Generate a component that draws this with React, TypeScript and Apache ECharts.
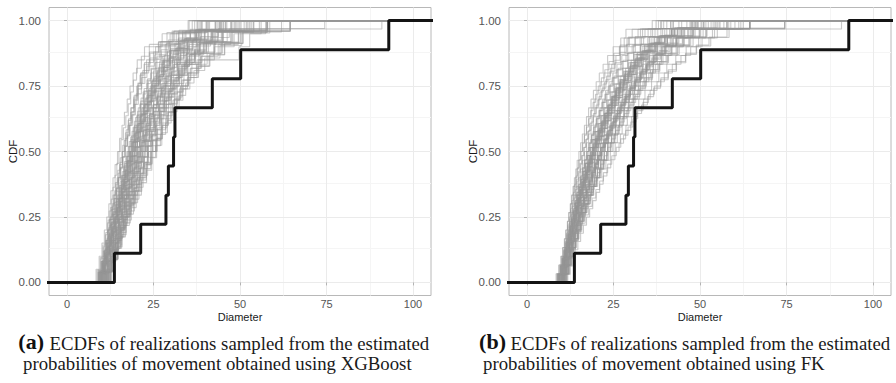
import React, { useEffect, useRef } from "react";
import * as echarts from "echarts";

// ---- axis ticks / grid lines ----
const xTicks = [0, 25, 50, 75, 100];
const xMinor = [12.5, 37.5, 62.5, 87.5];
const yTicks = [0, 0.25, 0.5, 0.75, 1];
const yMinor = [0.125, 0.375, 0.625, 0.875];

// ---- observed diameters (black ECDF, same in both panels) ----
const observedDiameters = [13.7, 21.3, 28.6, 29.3, 30.8, 31.2, 42.0, 50.2, 93.0];

// ---- realizations, panel (a) XGBoost ----
const xgboostRealizations: number[][] = [
  [9.2, 10.1, 10.8, 11.4, 12.0, 12.5, 13.1, 13.8, 14.3, 14.9, 15.6, 16.2, 16.8, 17.5, 18.1, 18.7, 19.4, 20.0, 20.6, 21.3, 22.4, 23.8, 26.5, 31.0, 36.2],
  [10.4, 11.2, 11.9, 12.6, 13.3, 13.8, 14.6, 15.3, 16.1, 16.9, 17.6, 18.4, 19.3, 20.1, 21.0, 21.9, 22.8, 23.9, 25.1, 26.4, 27.8, 29.2, 31.0, 33.6, 37.4, 42.1, 48.3],
  [11.8, 12.9, 13.7, 14.6, 15.5, 16.4, 17.3, 18.5, 19.6, 20.8, 22.1, 23.3, 24.2, 25.5, 26.9, 28.0, 29.4, 30.9, 32.4, 33.9, 36.1, 39.4, 44.8, 52.6],
  [10.0, 10.7, 11.5, 12.1, 12.8, 13.4, 14.0, 14.7, 15.2, 15.9, 16.6, 17.3, 18.0, 18.8, 19.5, 20.3, 21.1, 22.0, 22.9, 23.8, 24.9, 26.0, 27.3, 28.6, 30.1, 31.8, 34.2, 37.0, 41.5, 46.9, 91.0],
  [11.0, 11.9, 12.7, 13.5, 14.2, 15.0, 15.9, 16.7, 17.6, 18.5, 19.4, 20.3, 21.2, 22.3, 23.4, 24.5, 25.8, 27.0, 28.5, 30.2, 32.0, 34.7, 38.3, 43.5, 64.5],
  [9.6, 10.5, 11.3, 11.9, 12.6, 13.2, 13.9, 14.5, 15.1, 15.8, 16.4, 17.0, 17.7, 18.4, 19.1, 19.8, 20.6, 21.5, 22.6, 23.7, 24.9, 26.3, 27.9, 29.8, 32.3, 35.1, 39.8, 45.3],
  [12.2, 13.1, 13.8, 14.6, 15.4, 16.3, 17.2, 18.2, 19.3, 20.4, 21.6, 22.8, 24.1, 25.3, 26.8, 28.2, 29.7, 31.3, 33.0, 35.4, 38.6, 42.7, 49.8],
  [10.8, 11.6, 12.2, 12.9, 13.5, 14.1, 14.8, 15.4, 16.0, 16.7, 17.5, 18.3, 19.0, 19.9, 20.7, 21.6, 22.6, 23.7, 24.8, 26.0, 27.4, 28.9, 30.8, 33.5, 37.9, 57.8],
  [9.9, 10.6, 11.1, 11.8, 12.4, 12.9, 13.5, 14.0, 14.6, 15.2, 15.7, 16.3, 16.9, 17.5, 18.1, 18.8, 19.4, 20.1, 20.9, 21.7, 22.5, 23.4, 24.4, 25.5, 26.7, 28.1, 29.9, 32.2, 35.6, 40.3],
  [11.3, 12.4, 13.2, 14.1, 14.9, 15.8, 16.6, 17.6, 18.6, 19.5, 20.6, 21.7, 22.8, 23.9, 25.2, 26.5, 27.9, 29.3, 30.8, 32.4, 34.6, 37.8, 41.9, 47.5],
  [10.2, 11.0, 11.6, 12.3, 13.0, 13.6, 14.3, 15.0, 15.7, 16.4, 17.1, 17.9, 18.7, 19.6, 20.4, 21.3, 22.3, 23.4, 24.6, 25.9, 27.3, 29.0, 31.2, 34.4, 39.1],
  [11.6, 12.5, 13.3, 14.0, 14.8, 15.5, 16.3, 17.1, 17.9, 18.8, 19.7, 20.6, 21.5, 22.5, 23.5, 24.6, 25.7, 26.9, 28.2, 29.5, 31.0, 32.6, 34.4, 36.9, 40.2, 44.6, 51.8],
  [9.4, 10.4, 11.2, 12.0, 12.7, 13.5, 14.3, 15.1, 15.9, 16.7, 17.6, 18.5, 19.3, 20.2, 21.1, 22.0, 23.1, 24.3, 26.0, 28.4, 32.2, 38.7],
  [10.6, 11.3, 11.9, 12.5, 13.1, 13.6, 14.2, 14.8, 15.3, 15.9, 16.5, 17.1, 17.7, 18.3, 19.0, 19.6, 20.3, 21.0, 21.7, 22.5, 23.3, 24.1, 25.0, 26.0, 27.1, 28.3, 29.6, 31.1, 32.9, 35.3, 38.6, 43.8, 74.5],
  [12.0, 12.8, 13.6, 14.3, 15.1, 15.9, 16.8, 17.6, 18.5, 19.4, 20.3, 21.3, 22.3, 23.4, 24.5, 25.6, 26.8, 28.0, 29.3, 30.7, 32.2, 33.9, 35.9, 38.4, 41.8, 46.2],
  [9.0, 9.8, 10.5, 11.1, 11.7, 12.3, 12.9, 13.5, 14.2, 14.8, 15.4, 16.1, 16.8, 17.5, 18.2, 19.0, 19.8, 20.6, 21.5, 22.5, 23.6, 25.0, 27.1, 30.4, 35.0],
  [11.1, 11.9, 12.6, 13.2, 13.9, 14.5, 15.2, 15.9, 16.6, 17.3, 18.0, 18.8, 19.6, 20.4, 21.2, 22.1, 23.0, 24.0, 25.0, 26.1, 27.3, 28.6, 30.0, 31.7, 33.8, 36.5, 40.7, 64.5],
  [10.7, 11.7, 12.5, 13.4, 14.2, 15.0, 15.8, 16.7, 17.6, 18.6, 19.5, 20.5, 21.6, 22.7, 23.8, 25.0, 26.3, 27.7, 29.2, 30.9, 32.8, 35.4, 39.7, 45.8],
  [10.3, 11.0, 11.7, 12.3, 12.9, 13.6, 14.2, 14.8, 15.5, 16.1, 16.8, 17.4, 18.1, 18.8, 19.6, 20.3, 21.1, 21.9, 22.8, 23.7, 24.7, 25.8, 27.0, 28.3, 29.8, 31.6, 34.0, 37.2, 42.9],
  [12.6, 13.5, 14.4, 15.3, 16.2, 17.1, 18.1, 19.1, 20.1, 21.2, 22.3, 23.5, 24.7, 26.0, 27.3, 28.7, 30.1, 31.7, 33.4, 35.5, 38.2, 42.0, 48.6],
  [9.7, 10.6, 11.4, 12.2, 12.9, 13.7, 14.4, 15.2, 15.9, 16.7, 17.4, 18.2, 19.0, 19.8, 20.6, 21.5, 22.4, 23.4, 24.4, 25.5, 26.7, 28.1, 29.8, 32.1, 35.6, 41.2],
  [11.4, 12.1, 12.8, 13.4, 14.0, 14.7, 15.3, 15.9, 16.6, 17.2, 17.9, 18.6, 19.3, 20.0, 20.8, 21.6, 22.4, 23.2, 24.1, 25.0, 26.0, 27.1, 28.2, 29.5, 30.9, 32.6, 34.7, 37.5, 41.6, 57.8],
  [10.9, 11.8, 12.6, 13.3, 14.1, 14.8, 15.6, 16.4, 17.2, 18.0, 18.9, 19.8, 20.7, 21.7, 22.7, 23.8, 24.9, 26.1, 27.4, 28.8, 30.4, 32.3, 34.8, 38.4, 44.0],
  [9.5, 10.2, 10.9, 11.5, 12.1, 12.7, 13.3, 13.9, 14.5, 15.1, 15.7, 16.4, 17.0, 17.7, 18.4, 19.1, 19.8, 20.6, 21.4, 22.3, 23.3, 24.4, 25.7, 27.2, 29.3, 32.4, 37.6],
  [11.9, 13.0, 13.9, 14.9, 15.8, 16.8, 17.8, 18.9, 20.0, 21.1, 22.3, 23.5, 24.7, 26.0, 27.3, 28.6, 30.0, 31.5, 33.1, 34.9, 37.1, 40.3, 45.0, 53.4],
  [10.1, 10.8, 11.5, 12.2, 12.8, 13.4, 14.1, 14.7, 15.4, 16.0, 16.7, 17.4, 18.1, 18.9, 19.7, 20.5, 21.4, 22.3, 23.2, 24.2, 25.3, 26.5, 27.9, 29.4, 31.3, 33.8, 37.4, 43.1],
  [11.5, 12.3, 13.0, 13.8, 14.5, 15.3, 16.0, 16.8, 17.6, 18.5, 19.3, 20.2, 21.1, 22.1, 23.1, 24.1, 25.2, 26.4, 27.6, 28.9, 30.3, 31.9, 33.8, 36.2, 39.9, 47.7],
  [9.8, 10.8, 11.7, 12.5, 13.3, 14.1, 14.9, 15.8, 16.6, 17.5, 18.4, 19.3, 20.2, 21.2, 22.2, 23.3, 24.5, 25.9, 27.6, 29.9, 33.5, 40.6],
  [10.5, 11.1, 11.8, 12.4, 13.0, 13.6, 14.1, 14.7, 15.3, 15.9, 16.5, 17.1, 17.7, 18.4, 19.0, 19.7, 20.4, 21.1, 21.9, 22.7, 23.5, 24.4, 25.4, 26.5, 27.7, 29.0, 30.5, 32.3, 34.6, 38.0, 44.4],
  [12.4, 13.3, 14.1, 14.9, 15.8, 16.6, 17.5, 18.4, 19.4, 20.3, 21.3, 22.3, 23.4, 24.5, 25.6, 26.8, 28.1, 29.5, 31.0, 32.6, 34.5, 36.8, 39.8, 43.7, 50.3],
  [10.9, 11.8, 12.6, 13.3, 14.1, 14.9, 15.6, 16.4, 17.3, 18.1, 19.0, 20.0, 21.0, 22.1, 23.3, 24.6, 26.0, 27.8, 29.9, 33.2, 38.5, 44.9, 49.6, 54.0],
  [9.3, 10.2, 10.9, 11.6, 12.2, 12.8, 13.4, 14.1, 14.7, 15.3, 16.0, 16.6, 17.3, 18.0, 18.8, 19.5, 20.4, 21.3, 22.3, 23.5, 25.0, 26.8, 29.1, 32.6, 37.1, 42.8],
  [12.9, 13.8, 14.6, 15.5, 16.5, 17.4, 18.5, 19.6, 20.7, 21.9, 23.2, 24.5, 25.9, 27.4, 28.9, 30.6, 32.5, 34.8, 37.6, 41.1, 45.5, 50.8, 58.0],
  [10.4, 11.1, 11.7, 12.4, 13.0, 13.7, 14.3, 15.0, 15.6, 16.3, 17.1, 17.8, 18.6, 19.5, 20.3, 21.2, 22.2, 23.2, 24.4, 25.6, 27.0, 28.6, 30.5, 32.9, 36.2, 40.8, 47.3],
  [9.1, 10.0, 10.8, 11.5, 12.2, 12.9, 13.6, 14.3, 15.0, 15.7, 16.4, 17.2, 17.9, 18.7, 19.5, 20.3, 21.2, 22.1, 23.1, 24.2, 25.5, 27.2, 29.6, 33.4, 38.8],
  [11.7, 12.7, 13.5, 14.4, 15.2, 16.1, 17.0, 17.9, 18.9, 19.9, 20.9, 22.0, 23.2, 24.4, 25.7, 27.1, 28.7, 30.4, 32.4, 34.9, 38.1, 42.6, 47.9, 55.6],
  [10.2, 10.9, 11.6, 12.2, 12.8, 13.4, 14.0, 14.6, 15.2, 15.9, 16.5, 17.2, 17.9, 18.6, 19.4, 20.2, 21.0, 21.9, 22.9, 24.0, 25.1, 26.4, 27.9, 29.7, 31.9, 34.8, 38.9, 45.1],
  [11.2, 12.2, 13.1, 14.0, 14.9, 15.9, 16.9, 17.9, 19.0, 20.1, 21.3, 22.5, 23.8, 25.2, 26.7, 28.3, 30.1, 32.2, 34.8, 38.2, 43.0, 49.4],
  [9.6, 10.4, 11.1, 11.8, 12.5, 13.1, 13.8, 14.4, 15.1, 15.8, 16.5, 17.2, 18.0, 18.8, 19.6, 20.5, 21.4, 22.4, 23.5, 24.7, 26.1, 27.7, 29.7, 32.5, 36.8, 43.6],
  [12.1, 13.0, 13.8, 14.6, 15.5, 16.3, 17.2, 18.1, 19.1, 20.1, 21.1, 22.2, 23.3, 24.5, 25.8, 27.2, 28.6, 30.2, 31.9, 33.8, 36.1, 39.0, 42.8, 47.6, 64.5],
  [10.0, 10.8, 11.4, 12.0, 12.6, 13.2, 13.8, 14.4, 15.0, 15.6, 16.2, 16.9, 17.6, 18.3, 19.0, 19.8, 20.6, 21.4, 22.3, 23.3, 24.3, 25.4, 26.7, 28.1, 29.8, 31.8, 34.4, 38.2, 44.5],
  [10.6, 11.6, 12.5, 13.4, 14.3, 15.2, 16.1, 17.1, 18.1, 19.1, 20.2, 21.3, 22.5, 23.7, 25.0, 26.5, 28.1, 30.0, 32.3, 35.3, 39.5, 45.2, 52.1],
  [9.4, 10.3, 11.0, 11.7, 12.3, 12.9, 13.5, 14.1, 14.8, 15.4, 16.1, 16.8, 17.5, 18.2, 19.0, 19.8, 20.7, 21.6, 22.6, 23.7, 24.9, 26.3, 28.0, 30.1, 33.0, 37.5, 57.8],
  [11.3, 12.2, 13.0, 13.8, 14.6, 15.4, 16.2, 17.1, 18.0, 18.9, 19.9, 20.9, 21.9, 23.0, 24.2, 25.5, 26.9, 28.4, 30.1, 32.1, 34.6, 37.8, 42.4, 48.9],
  [10.3, 11.2, 12.0, 12.7, 13.4, 14.1, 14.8, 15.5, 16.3, 17.0, 17.8, 18.6, 19.4, 20.3, 21.2, 22.2, 23.2, 24.3, 25.5, 26.8, 28.3, 30.0, 32.1, 34.9, 38.7, 44.1],
  [12.5, 13.5, 14.5, 15.4, 16.4, 17.5, 18.6, 19.7, 20.9, 22.1, 23.4, 24.8, 26.2, 27.7, 29.3, 31.1, 33.2, 35.6, 38.6, 42.4, 47.3, 53.9],
  [9.9, 10.7, 11.3, 11.9, 12.5, 13.1, 13.7, 14.3, 14.9, 15.5, 16.1, 16.8, 17.4, 18.1, 18.8, 19.6, 20.4, 21.2, 22.1, 23.0, 24.1, 25.2, 26.5, 28.0, 29.9, 32.3, 35.7, 40.9],
  [11.0, 11.9, 12.7, 13.5, 14.3, 15.1, 15.9, 16.8, 17.7, 18.6, 19.6, 20.6, 21.7, 22.8, 24.0, 25.3, 26.7, 28.2, 29.9, 31.8, 34.1, 37.0, 40.9, 46.3, 52.9],
  [9.7, 10.6, 11.4, 12.2, 12.9, 13.7, 14.4, 15.2, 15.9, 16.7, 17.5, 18.4, 19.2, 20.1, 21.1, 22.1, 23.2, 24.4, 25.8, 27.5, 29.7, 32.8, 37.4, 44.7],
  [11.8, 12.6, 13.4, 14.1, 14.9, 15.7, 16.5, 17.3, 18.1, 19.0, 19.9, 20.8, 21.8, 22.8, 23.9, 25.0, 26.2, 27.5, 28.9, 30.5, 32.3, 34.4, 37.0, 40.4, 45.0, 51.2],
  [8.4, 9.3, 10.1, 10.8, 11.5, 12.1, 12.7, 13.3, 13.9, 14.6, 15.2, 15.9, 16.6, 17.4, 18.2, 19.1, 20.3, 22.4, 27.5, 35.3],
  [9.0, 9.8, 10.5, 11.1, 11.7, 12.2, 12.8, 13.3, 13.9, 14.4, 15.0, 15.6, 16.3, 17.0, 17.7, 18.4, 19.2, 20.1, 21.5, 23.8, 28.9, 38.2],
  [9.5, 10.3, 10.9, 11.5, 12.0, 12.6, 13.1, 13.6, 14.2, 14.8, 15.3, 15.9, 16.5, 17.1, 17.8, 18.5, 19.3, 20.2, 21.1, 22.3, 24.0, 26.4, 30.7, 37.8],
  [8.7, 9.6, 10.4, 11.2, 11.9, 12.6, 13.3, 14.0, 14.7, 15.4, 16.1, 16.9, 17.7, 18.5, 19.4, 20.5, 21.9, 23.9, 26.8, 31.6, 40.2],
  [9.8, 10.5, 11.2, 11.8, 12.4, 13.0, 13.6, 14.2, 14.8, 15.4, 16.0, 16.7, 17.3, 18.0, 18.8, 19.6, 20.5, 21.6, 23.1, 25.3, 28.8, 34.1, 45.9],
  [9.2, 10.1, 10.9, 11.7, 12.4, 13.1, 13.8, 14.5, 15.2, 16.0, 16.8, 17.6, 18.4, 19.3, 20.3, 21.4, 23.0, 25.6, 29.8, 36.9],
  [12.3, 13.6, 14.8, 15.9, 17.1, 18.3, 19.5, 20.8, 22.0, 23.3, 24.6, 26.0, 27.4, 28.9, 30.4, 31.9, 33.6, 35.8, 38.9, 43.7, 49.5, 57.8],
  [11.6, 12.9, 14.1, 15.4, 16.8, 18.3, 19.8, 21.3, 22.9, 24.5, 26.0, 27.6, 29.3, 31.0, 32.8, 35.0, 38.1, 42.6, 48.3, 56.1],
  [11.9, 12.9, 13.9, 14.9, 15.9, 17.0, 18.1, 19.2, 20.4, 21.6, 22.9, 24.2, 25.6, 27.0, 28.5, 30.0, 31.6, 33.3, 35.1, 37.4, 40.5, 44.6, 50.1, 64.5],
  [12.6, 13.6, 14.6, 15.8, 17.1, 18.6, 20.0, 21.5, 23.0, 24.5, 25.9, 27.4, 29.0, 30.7, 32.4, 34.3, 36.7, 39.8, 44.2, 50.5, 58.6],
  [12.7, 13.7, 14.7, 15.8, 16.9, 18.0, 19.2, 20.4, 21.6, 22.9, 24.2, 25.6, 27.0, 28.5, 30.1, 31.8, 33.5, 35.5, 38.0, 41.3, 45.6, 50.9, 62.0],
  [11.4, 12.6, 13.8, 15.1, 16.5, 17.9, 19.4, 20.9, 22.5, 24.1, 25.7, 27.4, 29.2, 31.0, 32.9, 35.0, 37.6, 49.7, 52.8, 57.4],
];

// ---- realizations, panel (b) FK ----
const fkRealizations: number[][] = [
  [9.4, 10.1, 10.7, 11.2, 11.7, 12.1, 12.6, 13.0, 13.5, 14.0, 14.5, 15.0, 15.6, 16.1, 16.7, 17.3, 17.9, 18.6, 19.3, 20.0, 20.8, 21.6, 22.5, 23.5, 24.6, 25.8, 27.1, 28.6, 30.4, 32.7, 35.8, 40.4],
  [10.2, 10.8, 11.3, 11.8, 12.3, 12.8, 13.3, 13.8, 14.4, 15.0, 15.6, 16.2, 16.9, 17.6, 18.3, 19.0, 19.8, 20.6, 21.5, 22.4, 23.3, 24.3, 25.4, 26.5, 27.7, 29.0, 30.4, 31.9, 33.6, 35.5, 37.8, 40.6, 44.5, 50.9],
  [9.8, 10.5, 11.1, 11.6, 12.2, 12.7, 13.2, 13.8, 14.3, 14.9, 15.5, 16.2, 16.8, 17.5, 18.2, 19.0, 19.8, 20.6, 21.5, 22.4, 23.4, 24.5, 25.7, 27.0, 28.4, 30.0, 31.8, 34.0, 36.9, 41.2, 90.9],
  [10.6, 11.1, 11.6, 12.1, 12.6, 13.1, 13.7, 14.2, 14.8, 15.4, 16.0, 16.7, 17.4, 18.1, 18.9, 19.7, 20.5, 21.4, 22.3, 23.2, 24.2, 25.2, 26.3, 27.4, 28.6, 29.9, 31.2, 32.7, 34.3, 36.1, 38.2, 40.8, 43.9, 48.1, 55.0],
  [8.9, 9.7, 10.4, 11.0, 11.6, 12.1, 12.6, 13.1, 13.7, 14.2, 14.8, 15.4, 16.0, 16.6, 17.2, 17.9, 18.6, 19.3, 20.1, 20.9, 21.8, 22.7, 23.7, 24.8, 26.0, 27.4, 29.1, 31.2, 34.1, 38.6],
  [10.0, 10.6, 11.2, 11.7, 12.2, 12.7, 13.2, 13.8, 14.3, 14.9, 15.5, 16.1, 16.8, 17.5, 18.2, 19.0, 19.8, 20.6, 21.5, 22.4, 23.4, 24.4, 25.5, 26.7, 28.0, 29.4, 30.9, 32.6, 34.6, 37.0, 40.1, 45.3, 64.4],
  [10.9, 11.5, 12.0, 12.6, 13.1, 13.7, 14.3, 14.9, 15.6, 16.3, 17.0, 17.7, 18.5, 19.3, 20.2, 21.1, 22.0, 23.0, 24.0, 25.1, 26.2, 27.4, 28.7, 30.0, 31.5, 33.0, 34.7, 36.6, 38.9, 41.7, 45.4, 51.2],
  [9.6, 10.2, 10.8, 11.3, 11.8, 12.2, 12.7, 13.2, 13.7, 14.2, 14.7, 15.3, 15.8, 16.4, 17.0, 17.6, 18.3, 19.0, 19.7, 20.4, 21.2, 22.0, 22.9, 23.8, 24.8, 25.9, 27.0, 28.2, 29.5, 31.0, 32.7, 34.6, 36.9, 39.8, 43.6, 49.1],
  [10.4, 11.1, 11.7, 12.3, 12.9, 13.5, 14.2, 14.9, 15.6, 16.4, 17.2, 18.0, 18.9, 19.8, 20.8, 21.8, 22.8, 23.9, 25.0, 26.2, 27.5, 28.8, 30.2, 31.7, 33.4, 35.3, 37.6, 40.5, 44.6, 51.7],
  [9.2, 9.9, 10.5, 11.1, 11.6, 12.1, 12.6, 13.1, 13.6, 14.1, 14.6, 15.2, 15.7, 16.3, 16.9, 17.5, 18.2, 18.9, 19.6, 20.4, 21.2, 22.1, 23.0, 24.0, 25.1, 26.3, 27.6, 29.1, 30.8, 32.9, 35.5, 39.2, 44.7],
  [10.7, 11.3, 11.8, 12.4, 12.9, 13.5, 14.1, 14.7, 15.3, 16.0, 16.7, 17.4, 18.1, 18.9, 19.7, 20.5, 21.4, 22.3, 23.2, 24.2, 25.2, 26.3, 27.4, 28.6, 29.9, 31.3, 32.8, 34.5, 36.4, 38.6, 41.3, 44.9, 50.2, 74.5],
  [9.9, 10.6, 11.2, 11.8, 12.3, 12.9, 13.4, 14.0, 14.6, 15.2, 15.9, 16.6, 17.3, 18.0, 18.8, 19.6, 20.5, 21.4, 22.3, 23.3, 24.3, 25.4, 26.6, 27.9, 29.3, 30.9, 32.7, 34.9, 37.7, 41.6, 47.8],
  [10.3, 10.9, 11.4, 11.9, 12.4, 12.9, 13.4, 13.9, 14.5, 15.0, 15.6, 16.2, 16.8, 17.4, 18.1, 18.8, 19.5, 20.2, 21.0, 21.8, 22.6, 23.5, 24.5, 25.5, 26.6, 27.7, 28.9, 30.2, 31.6, 33.2, 35.0, 37.2, 39.9, 43.5, 57.8],
  [11.2, 11.9, 12.6, 13.2, 13.9, 14.6, 15.3, 16.1, 16.9, 17.7, 18.6, 19.5, 20.4, 21.4, 22.4, 23.4, 24.5, 25.6, 26.8, 28.0, 29.3, 30.7, 32.2, 33.8, 35.6, 37.6, 40.0, 43.0, 47.2, 53.8],
  [9.1, 9.8, 10.4, 10.9, 11.4, 11.9, 12.4, 12.9, 13.4, 13.9, 14.4, 15.0, 15.5, 16.1, 16.7, 17.4, 18.0, 18.7, 19.4, 20.2, 21.0, 21.9, 22.8, 23.8, 24.9, 26.1, 27.5, 29.0, 30.8, 33.1, 36.3, 41.5],
  [10.5, 11.2, 11.7, 12.3, 12.8, 13.4, 14.0, 14.6, 15.2, 15.9, 16.5, 17.2, 18.0, 18.7, 19.5, 20.3, 21.2, 22.1, 23.0, 24.0, 25.0, 26.1, 27.2, 28.4, 29.7, 31.1, 32.6, 34.3, 36.2, 38.5, 41.4, 45.6, 52.4],
  [9.5, 10.3, 10.9, 11.5, 12.0, 12.6, 13.1, 13.7, 14.3, 14.9, 15.5, 16.2, 16.9, 17.6, 18.3, 19.1, 19.9, 20.8, 21.7, 22.6, 23.6, 24.7, 25.8, 27.0, 28.3, 29.8, 31.5, 33.5, 36.1, 39.8, 64.4],
  [10.1, 10.7, 11.3, 11.8, 12.3, 12.8, 13.3, 13.9, 14.4, 15.0, 15.6, 16.2, 16.9, 17.6, 18.3, 19.0, 19.8, 20.6, 21.4, 22.3, 23.2, 24.2, 25.2, 26.3, 27.5, 28.7, 30.0, 31.5, 33.1, 34.9, 37.1, 39.7, 43.4, 48.8],
  [10.8, 11.5, 12.2, 12.8, 13.5, 14.1, 14.8, 15.5, 16.3, 17.1, 17.9, 18.8, 19.7, 20.6, 21.6, 22.6, 23.6, 24.7, 25.8, 27.0, 28.3, 29.7, 31.2, 32.8, 34.6, 36.6, 39.0, 42.1, 46.4, 54.3],
  [9.3, 10.0, 10.6, 11.1, 11.6, 12.1, 12.6, 13.1, 13.6, 14.1, 14.7, 15.2, 15.8, 16.4, 17.0, 17.7, 18.4, 19.1, 19.8, 20.6, 21.4, 22.3, 23.2, 24.2, 25.3, 26.5, 27.8, 29.2, 30.9, 32.8, 35.3, 38.7, 43.9],
  [11.0, 11.6, 12.2, 12.8, 13.4, 14.0, 14.6, 15.3, 16.0, 16.7, 17.4, 18.2, 19.0, 19.8, 20.7, 21.6, 22.5, 23.5, 24.5, 25.6, 26.7, 27.9, 29.2, 30.5, 32.0, 33.6, 35.4, 37.5, 40.0, 43.2, 47.5, 57.8],
  [9.7, 10.4, 11.0, 11.5, 12.0, 12.5, 13.0, 13.5, 14.0, 14.5, 15.1, 15.6, 16.2, 16.8, 17.4, 18.0, 18.7, 19.4, 20.1, 20.9, 21.7, 22.5, 23.4, 24.4, 25.4, 26.5, 27.7, 29.0, 30.4, 32.0, 33.8, 36.0, 38.8, 42.7, 49.5],
  [10.6, 11.3, 11.9, 12.5, 13.1, 13.7, 14.4, 15.1, 15.8, 16.5, 17.3, 18.1, 18.9, 19.8, 20.7, 21.6, 22.6, 23.6, 24.7, 25.8, 27.0, 28.3, 29.7, 31.2, 32.9, 34.8, 37.0, 39.7, 43.3, 48.6, 64.4],
  [9.0, 9.7, 10.3, 10.8, 11.3, 11.8, 12.3, 12.8, 13.3, 13.8, 14.3, 14.8, 15.4, 15.9, 16.5, 17.1, 17.7, 18.4, 19.1, 19.8, 20.5, 21.3, 22.2, 23.1, 24.1, 25.2, 26.4, 27.8, 29.4, 31.3, 33.7, 37.0, 42.2],
  [11.5, 12.2, 12.9, 13.6, 14.3, 15.0, 15.8, 16.6, 17.4, 18.3, 19.2, 20.1, 21.1, 22.1, 23.1, 24.2, 25.3, 26.5, 27.7, 29.0, 30.4, 31.9, 33.5, 35.2, 37.1, 39.3, 41.9, 45.2, 49.8, 56.9],
  [10.0, 10.7, 11.2, 11.7, 12.2, 12.7, 13.2, 13.7, 14.2, 14.8, 15.3, 15.9, 16.5, 17.2, 17.9, 18.6, 19.3, 20.1, 20.9, 21.8, 22.7, 23.6, 24.6, 25.7, 26.8, 28.0, 29.3, 30.7, 32.3, 34.1, 36.3, 39.0, 42.8, 48.0],
  [10.4, 11.0, 11.6, 12.2, 12.7, 13.3, 13.9, 14.5, 15.1, 15.8, 16.5, 17.2, 17.9, 18.7, 19.5, 20.4, 21.3, 22.2, 23.2, 24.2, 25.3, 26.4, 27.6, 28.9, 30.3, 31.8, 33.5, 35.4, 37.7, 40.6, 44.6, 51.0],
  [9.3, 10.1, 10.8, 11.4, 12.0, 12.5, 13.1, 13.6, 14.2, 14.8, 15.4, 16.0, 16.7, 17.4, 18.1, 18.9, 19.7, 20.5, 21.4, 22.3, 23.3, 24.3, 25.4, 26.6, 27.9, 29.3, 30.9, 32.7, 34.9, 37.8, 42.3],
  [8.8, 9.6, 10.2, 10.8, 11.3, 11.8, 12.3, 12.8, 13.3, 13.8, 14.3, 14.9, 15.4, 16.0, 16.6, 17.2, 17.8, 18.5, 19.2, 19.9, 20.7, 21.5, 22.4, 23.4, 24.5, 25.7, 26.9, 28.1, 28.6, 38.0],
  [10.2, 10.9, 11.5, 12.0, 12.6, 13.1, 13.7, 14.3, 14.9, 15.6, 16.3, 17.0, 17.8, 18.6, 19.5, 20.4, 21.3, 22.3, 23.4, 24.5, 25.7, 27.0, 28.4, 29.9, 31.5, 33.3, 35.3, 37.6, 40.3, 43.6, 48.2, 55.8],
  [9.4, 10.1, 10.7, 11.2, 11.7, 12.2, 12.7, 13.2, 13.7, 14.3, 14.8, 15.4, 16.0, 16.6, 17.3, 18.0, 18.7, 19.4, 20.2, 21.0, 21.9, 22.8, 23.8, 24.8, 25.9, 27.1, 28.4, 29.8, 31.4, 33.2, 35.4, 38.1, 41.8, 47.4],
  [11.3, 12.0, 12.7, 13.4, 14.1, 14.8, 15.6, 16.4, 17.2, 18.1, 19.0, 20.0, 21.0, 22.0, 23.1, 24.2, 25.4, 26.6, 27.9, 29.3, 30.8, 32.4, 34.1, 36.0, 38.1, 40.5, 43.4, 46.9, 51.6, 58.3],
  [9.6, 10.3, 10.9, 11.4, 11.9, 12.4, 12.9, 13.4, 14.0, 14.5, 15.1, 15.7, 16.3, 16.9, 17.6, 18.3, 19.0, 19.8, 20.6, 21.4, 22.3, 23.3, 24.3, 25.4, 26.6, 27.9, 29.4, 31.0, 32.9, 35.2, 38.1, 42.2, 64.4],
  [10.8, 11.4, 12.0, 12.6, 13.2, 13.8, 14.4, 15.1, 15.8, 16.5, 17.3, 18.1, 18.9, 19.8, 20.7, 21.7, 22.7, 23.7, 24.8, 26.0, 27.2, 28.5, 29.9, 31.4, 33.1, 35.0, 37.2, 39.9, 43.2, 47.9, 54.6],
  [9.2, 9.9, 10.5, 11.0, 11.5, 12.0, 12.5, 13.0, 13.5, 14.0, 14.5, 15.0, 15.6, 16.2, 16.8, 17.4, 18.1, 18.8, 19.5, 20.3, 21.1, 22.0, 22.9, 23.9, 24.9, 26.0, 27.2, 28.5, 29.9, 31.5, 33.4, 35.6, 38.4, 42.5, 48.7],
  [10.1, 10.9, 11.6, 12.2, 12.9, 13.6, 14.3, 15.0, 15.8, 16.6, 17.4, 18.3, 19.2, 20.1, 21.1, 22.1, 23.2, 24.3, 25.5, 26.8, 28.1, 29.5, 31.0, 32.7, 34.5, 36.6, 39.1, 42.3, 46.7, 53.2],
  [9.9, 10.5, 11.1, 11.6, 12.1, 12.6, 13.1, 13.6, 14.2, 14.7, 15.3, 15.9, 16.5, 17.2, 17.9, 18.6, 19.4, 20.2, 21.0, 21.9, 22.8, 23.8, 24.8, 25.9, 27.1, 28.4, 29.8, 31.3, 33.0, 35.0, 37.4, 40.5, 44.9, 74.5],
  [11.6, 12.2, 12.8, 13.4, 14.0, 14.7, 15.4, 16.1, 16.8, 17.6, 18.4, 19.2, 20.1, 21.0, 22.0, 23.0, 24.0, 25.1, 26.2, 27.4, 28.7, 30.0, 31.4, 32.9, 34.5, 36.3, 38.3, 40.7, 43.6, 47.3, 52.0, 58.9],
  [8.9, 9.6, 10.2, 10.8, 11.3, 11.8, 12.3, 12.8, 13.3, 13.9, 14.4, 15.0, 15.6, 16.2, 16.9, 17.6, 18.3, 19.1, 19.9, 20.7, 21.6, 22.5, 23.5, 24.6, 25.8, 27.1, 28.5, 30.1, 31.9, 34.0, 36.7, 40.4, 46.2],
  [10.5, 11.2, 11.8, 12.4, 13.0, 13.6, 14.2, 14.9, 15.6, 16.3, 17.0, 17.8, 18.6, 19.5, 20.4, 21.3, 22.3, 23.3, 24.4, 25.5, 26.7, 28.0, 29.4, 30.9, 32.6, 34.5, 36.8, 39.6, 43.1, 47.8, 55.5],
  [9.8, 10.4, 10.9, 11.4, 11.9, 12.4, 12.9, 13.4, 13.9, 14.4, 15.0, 15.5, 16.1, 16.7, 17.3, 18.0, 18.6, 19.3, 20.1, 20.9, 21.7, 22.6, 23.5, 24.5, 25.5, 26.6, 27.8, 29.1, 30.6, 32.3, 34.3, 36.7, 39.8, 44.0, 50.4],
  [11.1, 11.8, 12.5, 13.1, 13.8, 14.5, 15.2, 16.0, 16.8, 17.6, 18.5, 19.4, 20.3, 21.3, 22.3, 23.4, 24.5, 25.7, 26.9, 28.2, 29.6, 31.1, 32.7, 34.5, 36.5, 38.8, 41.6, 45.1, 49.8, 57.8],
  [9.5, 10.2, 10.8, 11.3, 11.8, 12.3, 12.9, 13.4, 13.9, 14.5, 15.1, 15.7, 16.3, 17.0, 17.7, 18.4, 19.2, 20.0, 20.8, 21.7, 22.6, 23.6, 24.6, 25.7, 26.9, 28.2, 29.7, 31.3, 33.2, 35.5, 38.4, 42.6, 49.3],
  [10.7, 11.3, 11.9, 12.5, 13.1, 13.7, 14.3, 15.0, 15.7, 16.4, 17.2, 18.0, 18.8, 19.7, 20.6, 21.5, 22.5, 23.5, 24.6, 25.7, 26.9, 28.2, 29.6, 31.1, 32.7, 34.5, 36.5, 38.9, 41.8, 45.5, 50.9, 64.4],
  [9.3, 10.0, 10.6, 11.1, 11.6, 12.1, 12.6, 13.1, 13.6, 14.1, 14.7, 15.2, 15.8, 16.4, 17.1, 17.8, 18.5, 19.2, 20.0, 20.8, 21.6, 22.5, 23.5, 24.5, 25.6, 26.8, 28.1, 29.5, 31.1, 32.9, 35.1, 37.9, 41.8, 47.6],
  [11.4, 12.1, 12.7, 13.3, 14.0, 14.7, 15.4, 16.1, 16.9, 17.7, 18.5, 19.4, 20.3, 21.3, 22.3, 23.3, 24.4, 25.6, 26.8, 28.1, 29.5, 31.0, 32.6, 34.3, 36.2, 38.4, 40.9, 44.0, 48.0, 53.6, 61.2],
  [10.0, 10.6, 11.2, 11.7, 12.2, 12.7, 13.2, 13.8, 14.3, 14.9, 15.5, 16.1, 16.8, 17.5, 18.2, 18.9, 19.7, 20.5, 21.4, 22.3, 23.2, 24.2, 25.3, 26.4, 27.6, 28.9, 30.3, 31.9, 33.7, 35.8, 38.4, 41.9, 47.1],
  [9.1, 9.9, 10.6, 11.2, 11.8, 12.4, 13.0, 13.6, 14.2, 14.8, 15.5, 16.2, 16.9, 17.7, 18.5, 19.3, 20.2, 21.1, 22.1, 23.2, 24.3, 25.5, 26.8, 28.3, 30.0, 32.0, 34.4, 37.5, 41.8, 48.4],
  [10.9, 11.6, 12.2, 12.8, 13.4, 14.1, 14.8, 15.5, 16.2, 17.0, 17.8, 18.6, 19.5, 20.4, 21.3, 22.3, 23.3, 24.4, 25.5, 26.7, 28.0, 29.3, 30.7, 32.2, 33.9, 35.7, 37.8, 40.2, 43.1, 46.8, 51.9, 60.1],
  [8.6, 9.3, 9.9, 10.4, 10.9, 11.3, 11.7, 12.1, 12.5, 12.9, 13.3, 13.7, 14.1, 14.5, 15.0, 15.5, 16.0, 16.6, 17.2, 17.8, 18.5, 19.2, 20.0, 20.9, 22.0, 23.3, 24.9, 27.1, 30.4, 36.2],
  [9.0, 9.6, 10.1, 10.6, 11.0, 11.4, 11.8, 12.2, 12.6, 13.0, 13.4, 13.8, 14.2, 14.6, 15.1, 15.6, 16.1, 16.6, 17.2, 17.8, 18.4, 19.1, 19.8, 20.6, 21.5, 22.5, 23.7, 25.1, 26.9, 29.3, 32.8, 38.9],
  [9.3, 9.9, 10.4, 10.9, 11.4, 11.8, 12.2, 12.7, 13.1, 13.6, 14.0, 14.5, 15.0, 15.5, 16.0, 16.6, 17.2, 17.8, 18.5, 19.2, 20.0, 20.8, 21.7, 22.8, 24.0, 25.4, 27.0, 28.3, 29.6, 33.4, 39.5],
  [8.4, 9.2, 9.8, 10.3, 10.8, 11.2, 11.7, 12.1, 12.6, 13.0, 13.5, 14.0, 14.4, 14.9, 15.5, 16.0, 16.6, 17.2, 17.9, 18.6, 19.4, 20.2, 21.1, 22.2, 23.4, 24.9, 26.7, 28.9, 32.1, 37.3],
  [9.1, 9.7, 10.2, 10.7, 11.1, 11.5, 11.9, 12.3, 12.7, 13.1, 13.5, 13.9, 14.3, 14.8, 15.3, 15.8, 16.3, 16.9, 17.5, 18.1, 18.8, 19.5, 20.3, 21.1, 22.0, 23.0, 24.1, 25.4, 26.9, 28.8, 31.3, 35.0, 41.6],
  [10.4, 11.1, 11.8, 12.5, 13.2, 14.0, 14.8, 15.7, 16.7, 17.7, 18.8, 19.9, 21.1, 22.3, 23.5, 24.8, 26.1, 27.5, 29.0, 30.6, 32.3, 34.1, 36.0, 38.1, 40.4, 43.0, 46.0, 49.6, 54.2, 62.5],
  [11.8, 12.5, 13.2, 13.9, 14.7, 15.5, 16.3, 17.2, 18.1, 19.0, 20.0, 21.0, 22.0, 23.1, 24.2, 25.4, 26.6, 27.9, 29.2, 30.6, 32.0, 33.5, 35.1, 36.8, 38.7, 40.8, 43.1, 45.8, 48.9, 52.6, 57.8, 64.4],
  [10.6, 11.5, 12.3, 13.1, 14.0, 14.9, 15.8, 16.8, 17.8, 18.8, 19.9, 21.0, 22.1, 23.3, 24.5, 25.8, 27.1, 28.5, 30.0, 31.5, 33.1, 34.8, 36.6, 38.6, 40.8, 43.2, 45.9, 49.0, 53.1, 58.4, 74.5],
  [11.2, 11.9, 12.6, 13.3, 14.0, 14.7, 15.5, 16.3, 17.2, 18.2, 19.3, 20.4, 21.6, 22.8, 24.1, 25.5, 27.0, 28.6, 30.2, 31.9, 33.7, 35.6, 37.6, 39.7, 42.0, 44.5, 47.3, 50.6, 55.0, 61.8],
];

const panelCaptions = [
  { tag: "(a)", line1: "ECDFs of realizations sampled from the estimated", line2: "probabilities of movement obtained using XGBoost" },
  { tag: "(b)", line1: "ECDFs of realizations sampled from the estimated", line2: "probabilities of movement obtained using FK" },
];

function ecdfPoints(values: number[]): [number, number][] {
  const sorted = [...values].sort((a, b) => a - b);
  const n = sorted.length;
  const pts: [number, number][] = [[-50, 0]];
  sorted.forEach((v, i) => pts.push([v, (i + 1) / n]));
  pts.push([250, 1]);
  return pts;
}

const SANS = "Liberation Sans, Arial, sans-serif";
const SERIF = "Liberation Serif, Times New Roman, serif";

export default function App() {
  const ref = useRef<HTMLDivElement>(null);

  useEffect(() => {
    if (!ref.current) return;
    const chart = echarts.init(ref.current, undefined, { renderer: "svg" });

    const grids = [
      { left: 49, top: 7.5, width: 382, height: 288 },
      { left: 509, top: 7.5, width: 382, height: 288 },
    ];
    const panels = [xgboostRealizations, fkRealizations];

    const xAxes = grids.map((_, k) => ({
      type: "value",
      gridIndex: k,
      min: -5.2,
      max: 105.2,
      name: "Diameter",
      nameLocation: "middle",
      nameGap: 16,
      nameMoveOverlap: false,
      nameTextStyle: { color: "#1a1a1a", fontSize: 11, fontFamily: SANS },
      axisLine: { show: false },
      axisTick: { show: true, length: 3, lineStyle: { color: "#b3b3b3" }, customValues: xTicks },
      axisLabel: { customValues: xTicks, margin: 3, color: "#555555", fontSize: 11, fontFamily: SANS },
      splitLine: { show: false },
    }));
    const yAxes = grids.map((_, k) => ({
      type: "value",
      gridIndex: k,
      min: -0.05,
      max: 1.05,
      name: "CDF",
      nameLocation: "middle",
      nameGap: 30,
      nameMoveOverlap: false,
      nameTextStyle: { color: "#1a1a1a", fontSize: 11.5, fontFamily: SANS },
      axisLine: { show: false },
      axisTick: { show: true, length: 3, lineStyle: { color: "#b3b3b3" }, customValues: yTicks },
      axisLabel: {
        customValues: yTicks,
        margin: 8,
        color: "#555555",
        fontSize: 11.5,
        fontFamily: SANS,
        formatter: (v: number) => v.toFixed(2),
      },
      splitLine: { show: false },
    }));

    const series: any[] = [];
    grids.forEach((_, k) => {
      const major = { color: "#ebebeb", width: 1, type: "solid" };
      const minor = { color: "#f5f5f5", width: 1, type: "solid" };
      series.push({
        type: "line",
        xAxisIndex: k,
        yAxisIndex: k,
        data: [],
        silent: true,
        z: 0,
        markLine: {
          silent: true,
          symbol: ["none", "none"],
          label: { show: false },
          z: 0,
          data: [
            ...xMinor.map((v) => ({ xAxis: v, lineStyle: minor })),
            ...yMinor.map((v) => ({ yAxis: v, lineStyle: minor })),
            ...xTicks.map((v) => ({ xAxis: v, lineStyle: major })),
            ...yTicks.map((v) => ({ yAxis: v, lineStyle: major })),
          ],
        },
      });
      panels[k].forEach((r) => {
        series.push({
          type: "line",
          xAxisIndex: k,
          yAxisIndex: k,
          step: "end",
          showSymbol: false,
          symbol: "none",
          silent: true,
          z: 2,
          lineStyle: { color: "rgba(150,150,150,0.5)", width: 1.1 },
          data: ecdfPoints(r),
        });
      });
      series.push({
        type: "line",
        xAxisIndex: k,
        yAxisIndex: k,
        step: "end",
        showSymbol: false,
        symbol: "none",
        silent: true,
        z: 3,
        lineStyle: { color: "#141414", width: 3 },
        data: ecdfPoints(observedDiameters),
      });
    });

    const capPos = [
      { tagX: 44, l1X: 49.5, l2X: 23 },
      { tagX: 506, l1X: 510.5, l2X: 483 },
    ];
    const graphic: any[] = [];
    panelCaptions.forEach((c, k) => {
      const p = capPos[k];
      graphic.push({
        type: "text",
        x: p.tagX,
        y: 341.5,
        style: {
          text: c.tag,
          fontFamily: SERIF,
          fontWeight: "bold",
          fontSize: 22,
          fill: "#111",
          align: "right",
          textAlign: "right",
          verticalAlign: "middle",
          textVerticalAlign: "middle",
        },
      });
      graphic.push({
        type: "text",
        x: p.l1X,
        y: 343,
        style: {
          text: c.line1,
          fontFamily: SERIF,
          fontSize: 18.8,
          fill: "#1a1a1a",
          align: "left",
          textAlign: "left",
          verticalAlign: "middle",
          textVerticalAlign: "middle",
        },
      });
      graphic.push({
        type: "text",
        x: p.l2X,
        y: 363.5,
        style: {
          text: c.line2,
          fontFamily: SERIF,
          fontSize: 18.8,
          fill: "#1a1a1a",
          align: "left",
          textAlign: "left",
          verticalAlign: "middle",
          textVerticalAlign: "middle",
        },
      });
    });

    chart.setOption({
      animation: false,
      backgroundColor: "#ffffff",
      grid: grids.map((g) => ({ ...g, show: true, borderColor: "#b8b8b8", borderWidth: 1, backgroundColor: "transparent" })),
      xAxis: xAxes,
      yAxis: yAxes,
      series,
      graphic,
    });

    return () => chart.dispose();
  }, []);

  return (
    <div
      ref={ref}
      style={{ position: "absolute", left: 0, top: 0, width: 896, height: 383, background: "#fff" }}
    />
  );
}
